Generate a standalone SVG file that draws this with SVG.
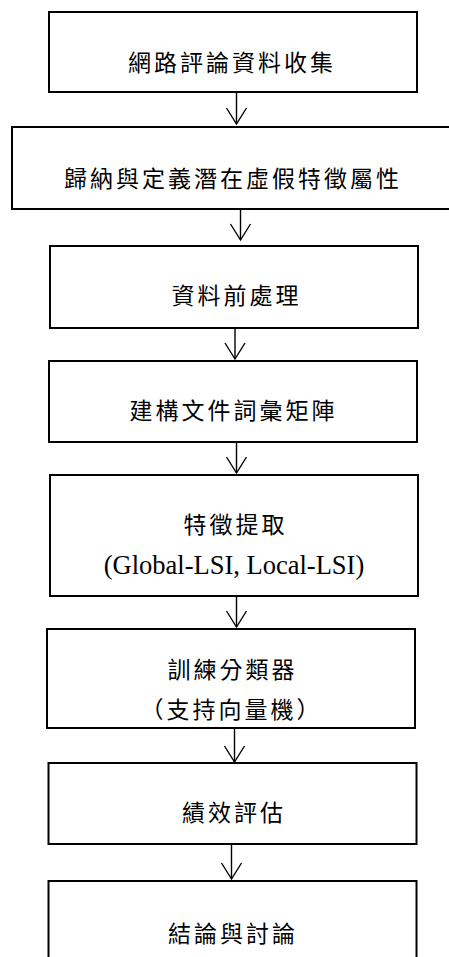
<svg xmlns="http://www.w3.org/2000/svg" width="449" height="957" viewBox="0 0 449 957">
<style>
.box{fill:#fff;stroke:#000;stroke-width:2}
.cjk{font-family:"Noto Sans CJK TC","Noto Sans CJK SC",sans-serif;font-size:23px;letter-spacing:3px;text-anchor:middle;dominant-baseline:central;fill:#000}
.lat{font-family:"Liberation Serif",serif;font-size:26.5px;text-anchor:middle;fill:#000}
.conn line{stroke:#000;stroke-width:1.4}
</style>
<defs>
<marker id="vh" markerUnits="userSpaceOnUse" viewBox="-18 -12 20 24" refX="0" refY="0" markerWidth="20" markerHeight="24" orient="auto" overflow="visible">
<path d="M-16,-10 L0,0 L-16,10" fill="none" stroke="#000" stroke-width="1.4"/>
</marker>
</defs>
<rect width="449" height="957" fill="#fff"/>
<g id="n1"><rect class="box" x="49" y="12" width="368" height="80"/><text class="cjk" x="232" y="61">網路評論資料收集</text></g>
<g id="n2"><rect class="box" x="12" y="127" width="460" height="82"/><text class="cjk" x="233" y="177">歸納與定義潛在虛假特徵屬性</text></g>
<g id="n3"><rect class="box" x="50" y="246" width="368" height="82"/><text class="cjk" x="236.5" y="293.5">資料前處理</text></g>
<g id="n4"><rect class="box" x="49" y="361" width="368" height="81"/><text class="cjk" x="233.5" y="409">建構文件詞彙矩陣</text></g>
<g id="n5"><rect class="box" x="50" y="475" width="368" height="121"/><text class="cjk" x="235.5" y="523">特徵提取</text><text class="lat" x="234" y="574">(Global-LSI, Local-LSI)</text></g>
<g id="n6"><rect class="box" x="47" y="629" width="368" height="99"/><text class="cjk" x="232.5" y="667.5">訓練分類器</text><text class="cjk" x="231.5" y="708">（支持向量機）</text></g>
<g id="n7"><rect class="box" x="48.5" y="763" width="368" height="81"/><text class="cjk" x="234" y="811">績效評估</text></g>
<g id="n8"><rect class="box" x="48.5" y="881" width="368" height="90"/><text class="cjk" x="233" y="931.5">結論與討論</text></g>
<g class="conn">
<line x1="236.5" y1="92" x2="236.5" y2="124" marker-end="url(#vh)"/>
<line x1="240.5" y1="209" x2="240.5" y2="240" marker-end="url(#vh)"/>
<line x1="235" y1="328" x2="235" y2="359" marker-end="url(#vh)"/>
<line x1="236.5" y1="442" x2="236.5" y2="473" marker-end="url(#vh)"/>
<line x1="236.5" y1="596" x2="236.5" y2="627" marker-end="url(#vh)"/>
<line x1="234.5" y1="728" x2="234.5" y2="762" marker-end="url(#vh)"/>
<line x1="231.5" y1="844" x2="231.5" y2="879" marker-end="url(#vh)"/>
</g>
</svg>
